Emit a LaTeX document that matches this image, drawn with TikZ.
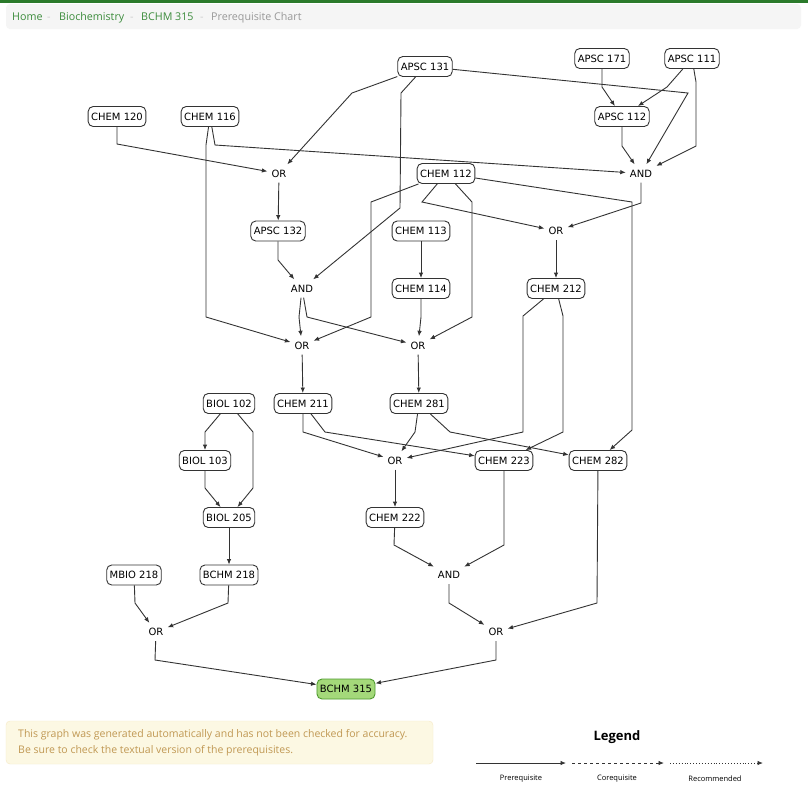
\documentclass[tikz,border=0pt]{standalone}
\usepackage{fontspec}
\newfontfamily\graphfont{DejaVu Sans}
\newfontfamily\pagefont{Open Sans}
\usepackage{tikz}
\usetikzlibrary{arrows.meta}
\usepackage{xcolor}

\definecolor{edgegray}{HTML}{333333}
\definecolor{topgreen}{HTML}{2B7A2B}
\definecolor{crumbgreen}{HTML}{3C8C3C}
\definecolor{crumbgray}{HTML}{999999}
\definecolor{crumbfill}{HTML}{F5F5F5}
\definecolor{warnfill}{HTML}{FCF8E3}
\definecolor{warnline}{HTML}{F6E9C6}
\definecolor{warntext}{HTML}{C09853}
\definecolor{goalfill}{HTML}{A4D97A}
\definecolor{goalline}{HTML}{4E9A2E}

\tikzset{
  course/.style={draw=edgegray, line width=0.9pt, rounded corners=5pt,
    minimum height=20pt, inner xsep=3pt, font=\graphfont\fontsize{10}{12}\selectfont},
  gate/.style={inner xsep=4pt, minimum height=18pt, font=\graphfont\fontsize{10}{12}\selectfont},
  prereq/.style={-{Latex[length=5.5pt, width=4.5pt]}, line width=0.9pt, draw=edgegray},
}

\begin{document}
\begin{tikzpicture}[x=1pt, y=-1pt]

    % Fond et cadre
    \fill[white] (0,0) rectangle (808,807);
    \useasboundingbox (0,0) rectangle (808,807);

    % Fil d'Ariane
    \fill[topgreen] (0,0) rectangle (808,3);
    \fill[crumbfill, rounded corners=4pt] (6,4) rectangle (801,29);
    \begin{scope}[font=\pagefont\fontsize{10.7}{12}\selectfont]
        \node[anchor=base west, inner sep=0pt, text=crumbgreen] (home) at (12,20) {Home};
        \node[anchor=base west, inner sep=0pt, text=crumbgray!50] (sep1) at (47,20) {-};
        \node[anchor=base west, inner sep=0pt, text=crumbgreen] (biochem) at (59,20) {Biochemistry};
        \node[anchor=base west, inner sep=0pt, text=crumbgray!50] (sep2) at (130,20) {-};
        \node[anchor=base west, inner sep=0pt, text=crumbgreen] (course) at (141,20) {BCHM 315};
        \node[anchor=base west, inner sep=0pt, text=crumbgray!50] (sep3) at (200,20) {-};
        \node[anchor=base west, inner sep=0pt, text=crumbgray] (chart) at (211,20) {Prerequisite Chart};
    \end{scope}

    % Cours
    \node[course] (apsc131) at (425,66.5) {APSC 131};
    \node[course] (apsc171) at (602,58.5) {APSC 171};
    \node[course] (apsc111) at (692,58.5) {APSC 111};
    \node[course] (chem120) at (117,116.5) {CHEM 120};
    \node[course] (chem116) at (210,116.5) {CHEM 116};
    \node[course] (apsc112) at (622,116.5) {APSC 112};
    \node[course] (chem112) at (446,173.5) {CHEM 112};
    \node[course] (apsc132) at (278,231) {APSC 132};
    \node[course] (chem113) at (421,231) {CHEM 113};
    \node[course] (chem114) at (421,288.5) {CHEM 114};
    \node[course] (chem212) at (556,288.5) {CHEM 212};
    \node[course] (biol102) at (229,403.5) {BIOL 102};
    \node[course] (chem211) at (303,403.5) {CHEM 211};
    \node[course] (chem281) at (419,403.5) {CHEM 281};
    \node[course] (biol103) at (205,460.5) {BIOL 103};
    \node[course] (chem223) at (504,460.5) {CHEM 223};
    \node[course] (chem282) at (598,460.5) {CHEM 282};
    \node[course] (biol205) at (229,517.5) {BIOL 205};
    \node[course] (chem222) at (395,517.5) {CHEM 222};
    \node[course] (mbio218) at (134,575) {MBIO 218};
    \node[course] (bchm218) at (229,575) {BCHM 218};
    \node[course, fill=goalfill, draw=goalline] (bchm315) at (346,689) {BCHM 315};

    % Conditions
    \node[gate] (or1) at (279,173.5) {OR};
    \node[gate] (and1) at (641,173.5) {AND};
    \node[gate] (or2) at (556,231) {OR};
    \node[gate] (and2) at (302,288.5) {AND};
    \node[gate] (or3) at (302,345.5) {OR};
    \node[gate] (or4) at (418,345.5) {OR};
    \node[gate] (or5) at (395,460.5) {OR};
    \node[gate] (and3) at (449,575) {AND};
    \node[gate] (or6) at (156,632) {OR};
    \node[gate] (or7) at (496,632) {OR};

    % Flèches du haut
    \draw[prereq] (apsc131) -- (352,93) -- (or1);
    \draw[prereq] (apsc131) -- (401,93) -- (400,208) -- (and2);
    \draw[prereq] (apsc131) -- (688,93) -- (and1);
    \draw[prereq] (apsc171) -- (602,87) -- (apsc112);
    \draw[prereq] (apsc111) -- (667,87) -- (apsc112);
    \draw[prereq] (apsc111) -- (696,82) -- (696,146) -- (and1);
    \draw[prereq] (apsc112) -- (622,146) -- (and1);
    \draw[prereq] (chem116) -- (215,145) -- (and1);
    \draw[prereq] (chem116) -- (206,145) -- (206,317) -- (or3);
    \draw[prereq] (chem120) -- (117,144) -- (or1);
    \draw[prereq] (or1) -- (apsc132);
    \draw[prereq] (apsc132) -- (278,260) -- (and2);

    % Flèches de CHEM 112
    \draw[prereq] (chem112) -- (371,202) -- (371,317) -- (or3);
    \draw[prereq] (chem112) -- (472,202) -- (472,317) -- (or4);
    \draw[prereq] (chem112) -- (422,202) -- (or2);
    \draw[prereq] (chem112) -- (632,202) -- (632,430) -- (chem282);
    \draw[prereq] (and1) -- (641,203) -- (or2);

    % Flèches du milieu
    \draw[prereq] (and2) -- (299,317) -- (or3);
    \draw[prereq] (and2) -- (307,317) -- (or4);
    \draw[prereq] (chem113) -- (chem114);
    \draw[prereq] (chem114) -- (421,317) -- (or4);
    \draw[prereq] (or2) -- (chem212);
    \draw[prereq] (chem212) -- (523,316) -- (523,432) -- (or5);
    \draw[prereq] (chem212) -- (563,316) -- (563,432) -- (chem223);
    \draw[prereq] (or3) -- (chem211);
    \draw[prereq] (or4) -- (chem281);
    \draw[prereq] (chem211) -- (303,432) -- (or5);
    \draw[prereq] (chem211) -- (325,432) -- (chem223);
    \draw[prereq] (chem281) -- (415,432) -- (or5);
    \draw[prereq] (chem281) -- (450,432) -- (chem282);

    % Flèches BIOL
    \draw[prereq] (biol102) -- (205,432) -- (biol103);
    \draw[prereq] (biol102) -- (253,432) -- (253,488) -- (biol205);
    \draw[prereq] (biol103) -- (205,488) -- (biol205);
    \draw[prereq] (biol205) -- (bchm218);

    % Flèches du bas
    \draw[prereq] (or5) -- (chem222);
    \draw[prereq] (chem222) -- (394,545) -- (and3);
    \draw[prereq] (chem223) -- (504,545) -- (and3);
    \draw[prereq] (and3) -- (449,603) -- (or7);
    \draw[prereq] (chem282) -- (597,603) -- (or7);
    \draw[prereq] (mbio218) -- (135,603) -- (or6);
    \draw[prereq] (bchm218) -- (228,603) -- (or6);
    \draw[prereq] (or6) -- (155,660) -- (bchm315);
    \draw[prereq] (or7) -- (496,660) -- (bchm315);

    % Avertissement
    \filldraw[fill=warnfill, draw=warnline, rounded corners=4pt] (6,721) rectangle (433,764);
    \node[anchor=west, align=left, text=warntext, inner sep=0pt,
          font=\pagefont\fontsize{10.5}{15.5}\selectfont] (warning) at (18,742.5)
          {This graph was generated automatically and has not been checked for accuracy.\\
           Be sure to check the textual version of the prerequisites.};

    % Légende
    \node[font=\pagefont\bfseries\fontsize{13}{15}\selectfont] (legend) at (617,737.5) {Legend};
    \coordinate (pre-a) at (476,763);
    \coordinate (pre-b) at (566,763);
    \coordinate (co-a) at (572,763);
    \coordinate (co-b) at (664,763);
    \coordinate (rec-a) at (670,763);
    \coordinate (rec-b) at (763,763);
    \draw[prereq] (pre-a) -- (pre-b);
    \draw[prereq, dashed] (co-a) -- (co-b);
    \draw[prereq, dotted] (rec-a) -- (rec-b);
    \begin{scope}[font=\pagefont\fontsize{7.5}{9}\selectfont]
        \node (prelabel) at (521,779) {Prerequisite};
        \node (colabel) at (617,779) {Corequisite};
        \node (reclabel) at (715,779) {Recommended};
    \end{scope}

\end{tikzpicture}
\end{document}
